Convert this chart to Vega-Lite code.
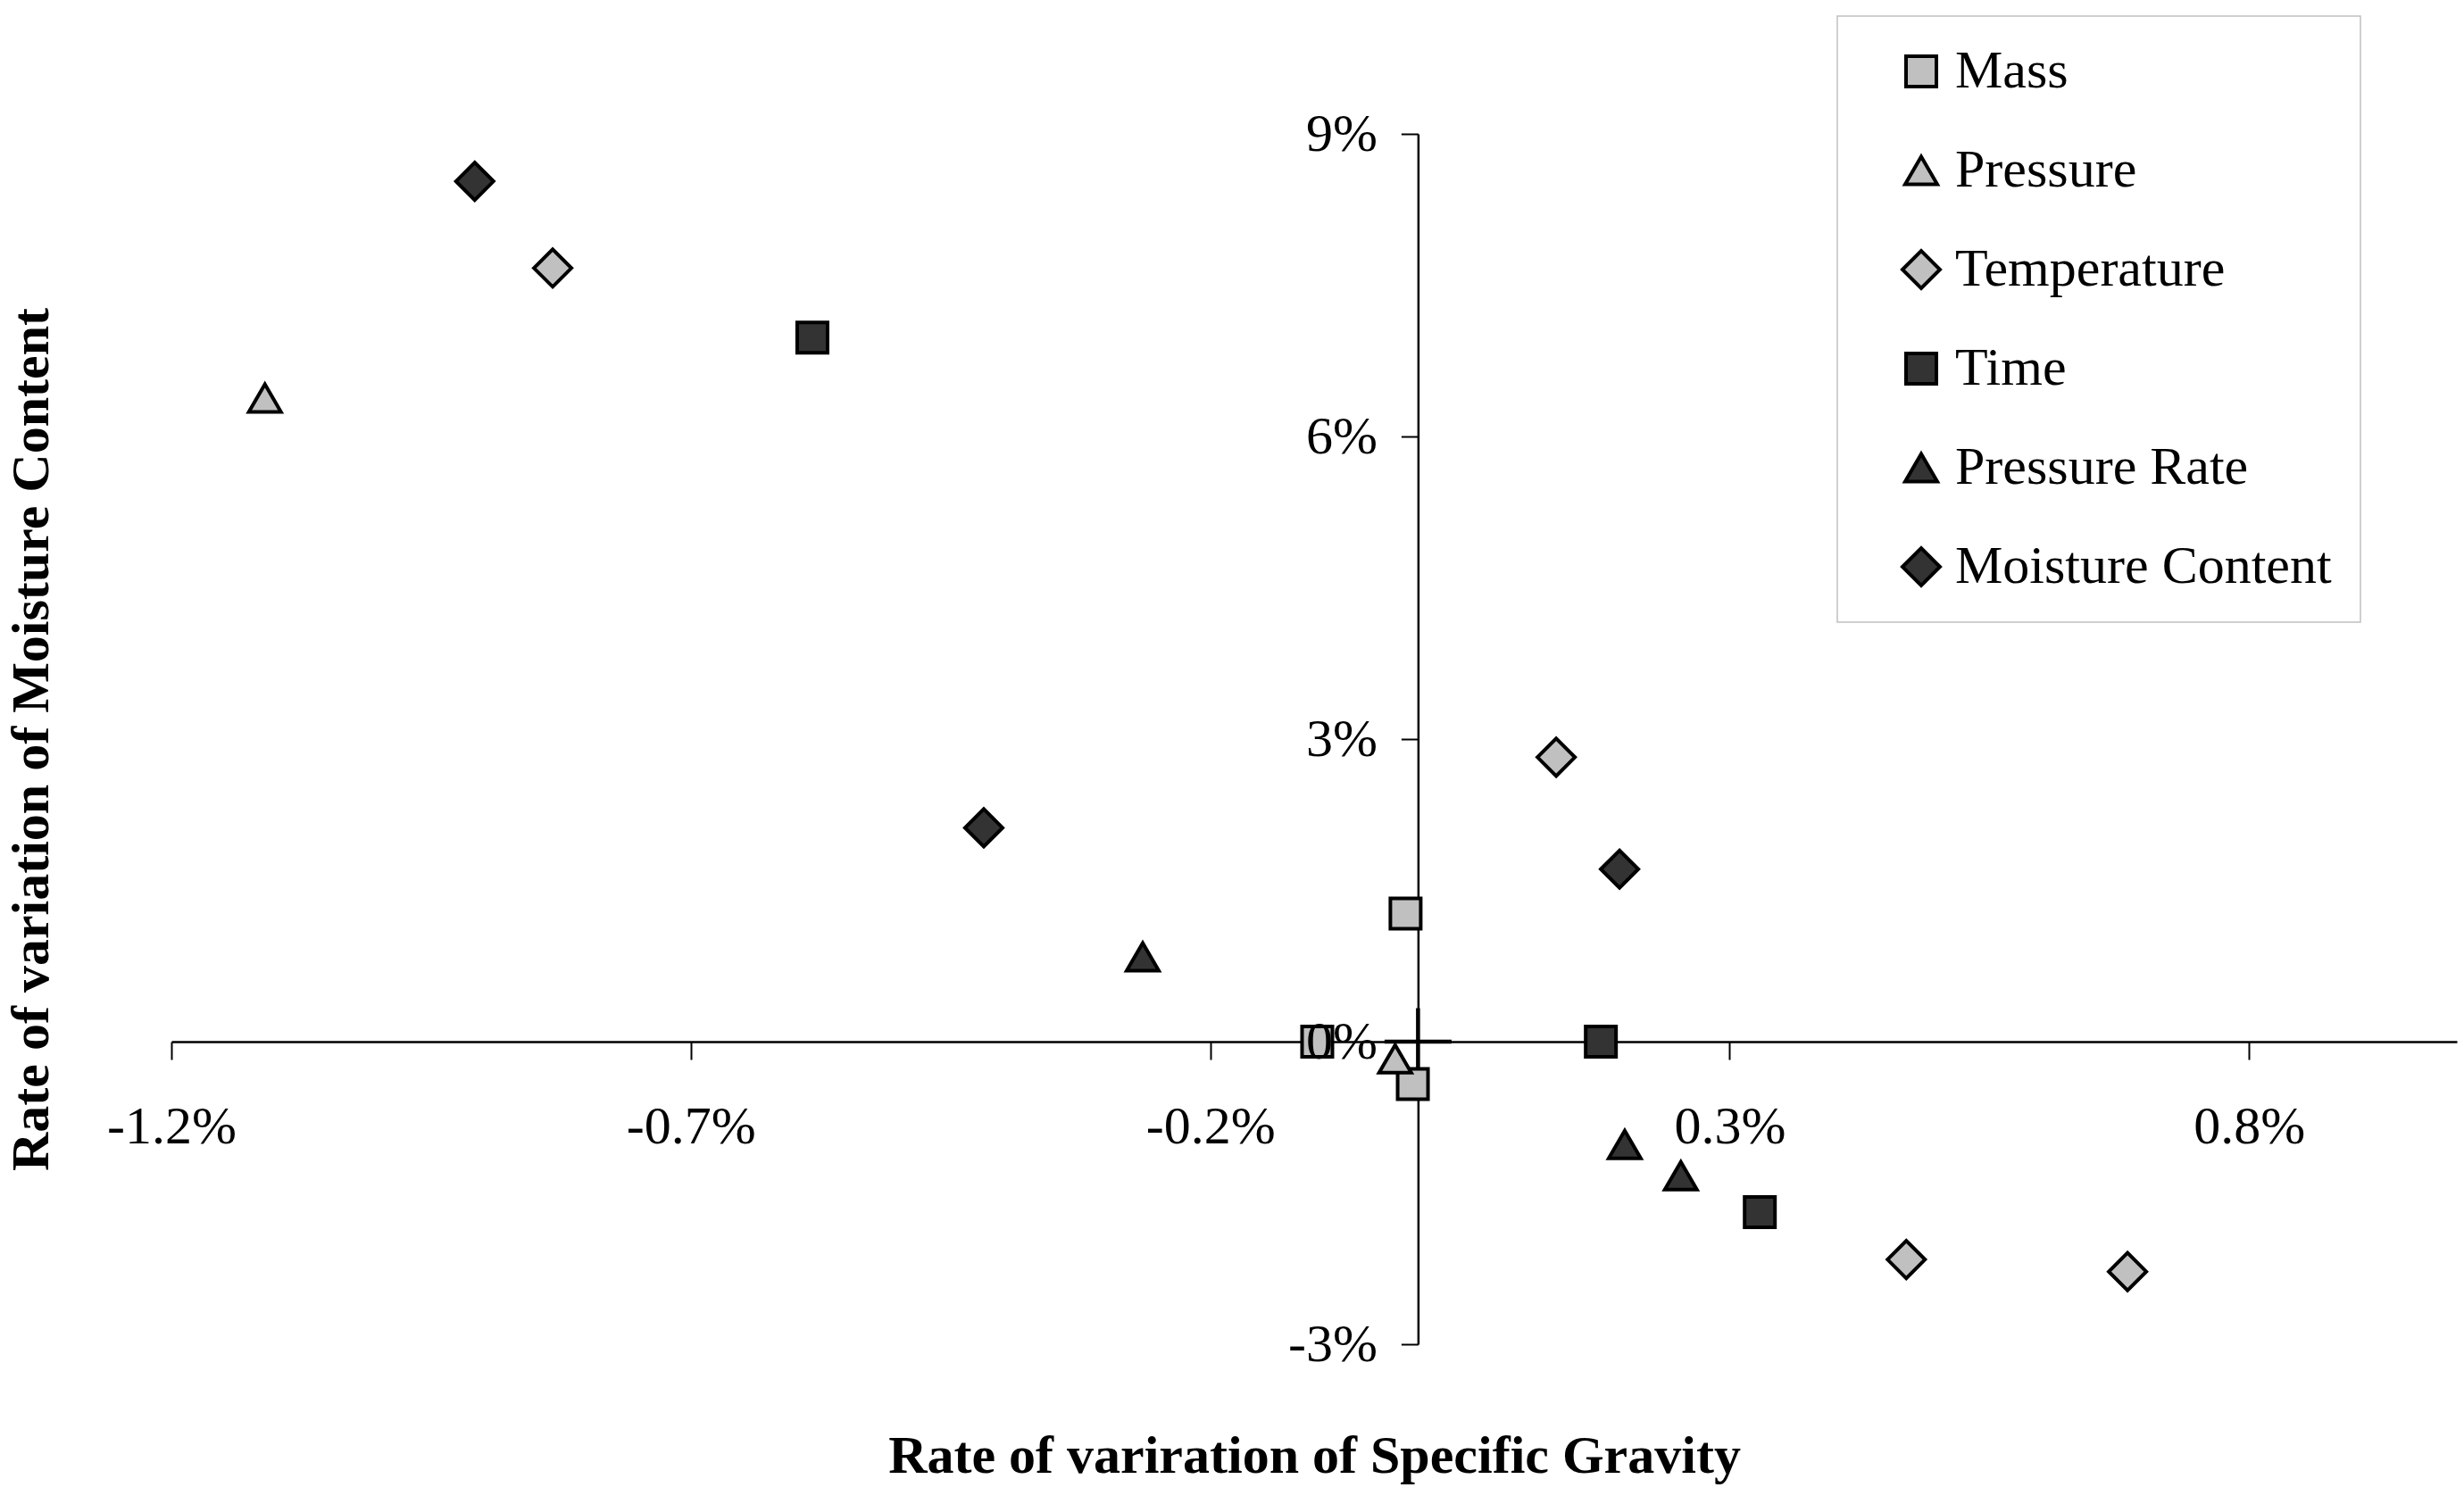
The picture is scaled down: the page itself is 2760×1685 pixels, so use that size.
{
  "$schema": "https://vega.github.io/schema/vega-lite/v6.json",
  "width": 2560,
  "height": 1356,
  "autosize": {"type": "none"},
  "padding": {"left": 192, "top": 150, "right": 8, "bottom": 179},
  "background": "white",
  "config": {
    "view": {"stroke": null},
    "font": "Liberation Serif",
    "axis": {"grid": false, "domainColor": "black", "tickColor": "black", "labelColor": "black", "titleColor": "black"},
    "legend": {"strokeWidth": 1.5}
  },
  "datasets": {
    "points": [
      {"series": "Mass", "sg": -0.097, "mc": 0.0},
      {"series": "Mass", "sg": -0.012, "mc": 1.27},
      {"series": "Mass", "sg": -0.005, "mc": -0.42},
      {"series": "Pressure", "sg": -1.11, "mc": 6.38},
      {"series": "Pressure", "sg": -0.022, "mc": -0.17},
      {"series": "Temperature", "sg": -0.833, "mc": 7.67},
      {"series": "Temperature", "sg": 0.133, "mc": 2.82},
      {"series": "Temperature", "sg": 0.47, "mc": -2.16},
      {"series": "Temperature", "sg": 0.683, "mc": -2.28},
      {"series": "Time", "sg": -0.583, "mc": 6.98},
      {"series": "Time", "sg": 0.176, "mc": 0.0},
      {"series": "Time", "sg": 0.329, "mc": -1.69},
      {"series": "Pressure Rate", "sg": -0.265, "mc": 0.84},
      {"series": "Pressure Rate", "sg": 0.199, "mc": -1.02},
      {"series": "Pressure Rate", "sg": 0.253, "mc": -1.33},
      {"series": "Moisture Content", "sg": -0.908, "mc": 8.53},
      {"series": "Moisture Content", "sg": -0.418, "mc": 2.12},
      {"series": "Moisture Content", "sg": 0.194, "mc": 1.71}
    ],
    "origin": [{"sg": 0, "mc": 0}]
  },
  "layer": [
    {
      "data": {"name": "origin"},
      "mark": {"type": "point", "shape": "M-1,0L1,0M0,-1L0,1", "size": 5625, "filled": false, "color": "black", "strokeWidth": 4.5, "opacity": 1},
      "encoding": {
        "x": {
          "field": "sg", "type": "quantitative",
          "scale": {"domain": [-1.2, 1.0], "nice": false, "zero": false},
          "axis": {
            "orient": "bottom", "offset": {"expr": "scale('y', 0) - height"},
            "values": [-1.2, -0.7, -0.2, 0.3, 0.8], "labelExpr": "datum.value + '%'",
            "domain": false, "ticks": false, "labelPadding": 66,
            "labelFontSize": 60, "labelFont": "Liberation Serif", "labelFlush": false, "labelOverlap": false,
            "title": null, "zindex": 1
          }
        },
        "y": {
          "field": "mc", "type": "quantitative",
          "scale": {"domain": [-3, 9], "nice": false, "zero": false},
          "axis": {
            "orient": "left", "offset": {"expr": "-scale('x', 0)"},
            "values": [-3, 0, 3, 6, 9], "labelExpr": "datum.value + '%'",
            "domain": false, "ticks": false, "labelPadding": 46,
            "labelFontSize": 60, "labelFont": "Liberation Serif", "labelFlush": false, "labelOverlap": false,
            "title": null, "zindex": 1
          }
        }
      }
    },
    {
      "data": {"name": "points"},
      "transform": [{"filter": {"field": "series", "oneOf": ["Mass", "Pressure", "Temperature"]}}],
      "mark": {"type": "point", "filled": true, "size": 2500, "stroke": "black", "strokeWidth": 4, "opacity": 1},
      "encoding": {
        "x": {
          "field": "sg", "type": "quantitative",
          "axis": {
            "orient": "bottom", "offset": {"expr": "scale('y', 0) - height"},
            "values": [-1.2, -0.7, -0.2, 0.3, 0.8], "labels": false,
            "domainWidth": 2.5, "tickWidth": 2, "tickSize": 20, "title": null, "zindex": 0
          }
        },
        "y": {
          "field": "mc", "type": "quantitative",
          "axis": {
            "orient": "left", "offset": {"expr": "-scale('x', 0)"},
            "values": [-3, 0, 3, 6, 9], "labels": false,
            "domainWidth": 2.5, "tickWidth": 2, "tickSize": 19, "title": null, "zindex": 0
          }
        },
        "fill": {
          "field": "series", "type": "nominal",
          "scale": {
            "domain": ["Mass", "Pressure", "Temperature", "Time", "Pressure Rate", "Moisture Content"],
            "range": ["#c0c0c0", "#c0c0c0", "#c0c0c0", "#333333", "#333333", "#333333"]
          },
          "legend": {
            "title": null, "orient": "none", "legendX": 1866, "legendY": -132,
            "padding": 32, "symbolOffset": 32, "labelOffset": 8, "rowPadding": 51,
            "labelFontSize": 60, "labelFont": "Liberation Serif", "labelColor": "black", "labelLimit": 0,
            "strokeColor": "#c0c0c0", "fillColor": "white", "symbolSize": 2500,
            "symbolStrokeColor": "black", "symbolStrokeWidth": 4, "symbolOpacity": 1
          }
        },
        "shape": {
          "field": "series", "type": "nominal",
          "scale": {
            "domain": ["Mass", "Pressure", "Temperature", "Time", "Pressure Rate", "Moisture Content"],
            "range": [
              "M-0.68,-0.68L0.68,-0.68L0.68,0.68L-0.68,0.68Z",
              "M0,-0.62L0.72,0.62L-0.72,0.62Z",
              "M-0.84,0L0,-0.84L0.84,0L0,0.84Z",
              "M-0.68,-0.68L0.68,-0.68L0.68,0.68L-0.68,0.68Z",
              "M0,-0.62L0.72,0.62L-0.72,0.62Z",
              "M-0.84,0L0,-0.84L0.84,0L0,0.84Z"
            ]
          }
        }
      }
    },
    {
      "data": {"name": "points"},
      "transform": [{"filter": {"field": "series", "oneOf": ["Time", "Pressure Rate", "Moisture Content"]}}],
      "mark": {"type": "point", "filled": true, "size": 2500, "stroke": "black", "strokeWidth": 4, "opacity": 1},
      "encoding": {
        "x": {
          "field": "sg", "type": "quantitative",
          "axis": {
            "orient": "bottom", "domain": false, "ticks": false, "labels": false,
            "title": "Rate of variration of Specific Gravity", "titleFontSize": 60,
            "titleFont": "Liberation Serif", "titleFontWeight": "bold", "titlePadding": 96
          }
        },
        "y": {
          "field": "mc", "type": "quantitative",
          "axis": {
            "orient": "left", "domain": false, "ticks": false, "labels": false,
            "title": "Rate of variation of Moisture Content", "titleFontSize": 60,
            "titleFont": "Liberation Serif", "titleFontWeight": "bold", "titlePadding": 126
          }
        },
        "fill": {"field": "series", "type": "nominal"},
        "shape": {"field": "series", "type": "nominal"}
      }
    }
  ],
  "resolve": {"axis": {"x": "independent", "y": "independent"}}
}
